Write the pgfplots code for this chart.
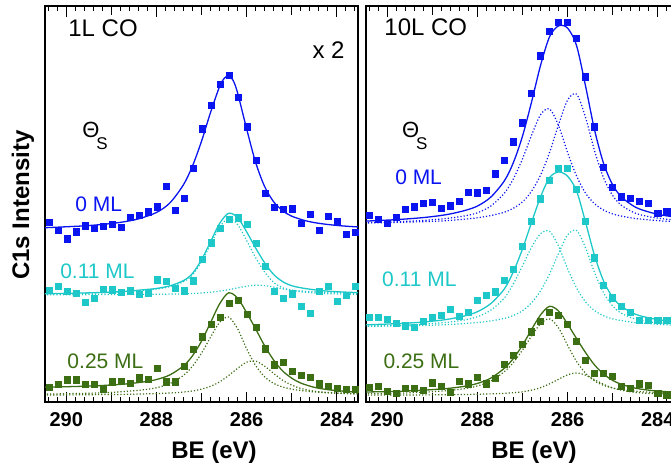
\documentclass[border=0pt]{standalone}
\usepackage{fontspec}
\setmainfont{Liberation Sans}
\usepackage{pgfplots}
\usepackage{pgfplotstable}
\pgfplotsset{compat=1.18}
\definecolor{cBlue}{RGB}{10,20,240}
\definecolor{cCyan}{RGB}{30,200,200}
\definecolor{cGreen}{RGB}{60,110,20}

\pgfplotstableread{
x b c g
290.38 176 109.3 14.7
290.18 168 113.7 17.3
289.98 160 108.7 21.7
289.78 166.7 106.3 21.7
289.58 172.7 97.7 17.3
289.38 170 101.7 17.3
289.18 172 110.7 12
288.98 174 110 19.7
288.78 171.3 107.3 20.3
288.58 180.7 109 18
288.38 183 105.3 23.7
288.18 186.3 107 22.3
287.98 191.3 119.7 32.7
287.78 211.7 118 19.7
287.58 188 111 19.7
287.38 200 109 35
287.18 229 118.7 51.5
286.98 267.7 139.7 63.8
286.78 290.7 156 75.8
286.58 311.7 170.2 82.8
286.38 320 178.8 96.8
286.18 298.3 180.5 100
285.98 269.7 174.5 85.8
285.78 236.7 155.7 72.8
285.58 204.7 132.7 52
285.38 191 108.8 36.3
285.18 188.7 101.8 38.7
284.98 189.3 106 30
284.78 175 94 25.7
284.58 183.7 87 24.3
284.38 168 108.7 17.7
284.18 182.3 113.7 15.3
283.98 176.7 98.3 13.3
283.78 164.7 104.7 12.7
283.58 166 113.7 12.7
}\leftdata

\pgfplotstableread{
x cT cA cM gT gA gM
290.5 106.1 106.0 105.1 14.6 7.7 6.9
289.8 106.7 106.5 105.2 15.2 8.3 7.0
289.2 107.4 107.1 105.3 16.2 9.0 7.3
288.7 108.4 108.1 105.3 17.6 10.3 7.5
288.3 110.0 109.5 105.5 19.6 11.9 7.9
288.0 111.3 110.7 105.6 22.0 14.0 8.3
287.7 113.9 113.1 105.8 26.6 18.1 8.8
287.4 119.0 117.9 106.1 35.4 26.1 9.8
287.2 126.0 124.6 106.4 45.3 35.1 10.8
287.0 139.5 137.6 106.9 59.6 47.8 12.6
286.8 157.0 154.4 107.6 77.8 63.5 15.4
286.6 174.9 171.2 108.7 96.1 78.0 19.7
286.4 185.0 179.9 110.1 107.0 83.3 25.9
286.2 180.9 174.0 111.9 101.9 71.8 33.0
286.0 166.9 158.4 113.5 87.6 52.2 39.0
285.8 151.0 141.5 114.5 71.7 35.8 40.1
285.6 136.5 127.4 114.1 55.1 24.7 35.1
285.4 125.0 117.3 112.7 41.1 18.3 28.0
285.2 118.0 112.0 111.0 30.4 14.7 21.3
285.0 114.0 109.6 109.4 23.4 12.6 16.6
284.8 112.0 108.9 108.1 18.6 11.3 13.3
284.5 110.0 108.1 106.9 14.4 9.9 10.6
284.2 108.7 107.5 106.2 12.1 9.0 9.3
283.9 107.9 107.0 105.9 10.8 8.6 8.5
283.5 107.2 106.6 105.6 9.5 8.0 7.9
}\leftfit

\pgfplotstableread{
x b c g
290.4 182.7 83.3 14.3
290.2 179.3 82.7 15.3
290.0 175.3 81.3 10.3
289.8 180.7 77 8.7
289.6 188.7 74.7 13.7
289.4 191.3 73.3 13.7
289.2 195 79.3 11.7
289.0 195.7 83 18.7
288.8 190 85 15.3
288.6 192.3 91 9.3
288.4 196.3 84 20
288.2 205.7 88 17.7
288.0 205 100 24
287.8 207.3 104.3 17.7
287.6 223.7 108 23
287.4 237 119 36.7
287.2 255 129.7 46
287.0 273.7 152.3 56.3
286.8 302.7 177 68.7
286.6 339.3 199.2 78.7
286.4 363 217.5 88
286.2 372 228.7 85.3
286.0 372.3 228.7 76
285.8 356.7 208.8 59.7
285.6 318.7 177 40.7
285.4 269.7 141.3 27.7
285.2 230 114.3 27.7
285.0 210.7 102 25.3
284.8 201 93.7 15.3
284.6 199.7 87.7 13
284.4 196.7 80.3 17.7
284.2 195 80.3 16.3
284.0 185 80.3 8.7
283.8 186.3 80.3 7
}\rightdata

\pgfplotstableread{
x bT bA bM cT cA cM gT gA gM
290.5 177.3 175.8 175.5 75.6 74.5 74.1 9.8 8.0 6.75
289.8 178.8 176.7 176.1 76.8 75.2 74.6 10.4 8.6 6.84
289.2 180.8 178.0 176.8 78.4 76.3 75.1 11.6 9.6 6.97
288.7 183.6 179.9 177.7 80.8 78.0 75.8 13.1 11.0 7.14
288.3 187.5 182.3 179.2 84.2 80.3 76.9 15.3 13.0 7.34
288.0 192.1 185.5 180.6 88.5 83.6 77.9 18.2 15.7 7.6
287.7 201.0 192.2 182.8 96.6 90.1 79.5 23.5 20.6 8.0
287.4 217.0 204.9 186.1 111.0 102.0 82.0 33.2 29.8 8.5
287.2 235.0 219.0 190.0 128.0 116.1 84.9 42.8 38.8 9.1
287.0 260.6 238.4 196.2 150.0 133.5 89.5 55.7 50.9 10.0
286.8 294.0 261.4 206.6 176.0 151.7 97.3 71.0 64.7 11.6
286.6 330.0 281.6 222.4 201.0 165.0 109.0 85.4 76.7 14.1
286.4 358.1 287.4 244.7 220.0 167.4 125.6 93.8 81.5 17.8
286.2 368.8 270.9 271.9 225.5 152.7 145.8 89.2 72.6 22.3
286.0 366.6 244.6 296.0 221.4 130.6 163.8 76.4 55.6 26.6
285.8 349.2 221.4 301.8 206.8 111.7 168.1 62.1 39.6 28.5
285.6 309.3 204.6 278.7 175.9 98.0 150.9 48.3 28.1 26.3
285.4 266.3 194.3 246.0 143.2 89.6 126.6 36.2 20.6 21.8
285.2 233.6 188.1 219.5 118.4 84.5 106.9 27.3 16.3 17.3
285.0 212.8 184.4 202.4 102.6 81.5 94.1 21.2 13.7 13.8
284.8 200.8 182.2 192.6 93.5 79.7 86.8 17.2 12.1 11.5
284.5 191.1 179.9 185.2 86.1 77.8 81.3 13.6 10.6 9.4
284.2 186.3 178.6 181.7 82.5 76.8 78.7 11.6 9.6 8.4
283.9 183.2 177.5 179.7 80.1 75.9 77.2 10.4 8.9 7.9
283.5 180.6 176.7 177.9 78.1 75.2 75.9 9.4 8.3 7.5
}\rightfit

\pgfplotsset{
  panel/.style={
    width=156.5pt, height=194pt, scale only axis,
    xmin=283.53, xmax=290.47, x dir=reverse,
    ymin=0, ymax=388,
    ytick=\empty,
    xtick={284,286,288,290},
    minor xtick={283.6,283.8,284.2,284.4,284.6,284.8,285.2,285.4,285.6,285.8,286.2,286.4,286.6,286.8,287.2,287.4,287.6,287.8,288.2,288.4,288.6,288.8,289.2,289.4,289.6,289.8,290.2,290.4},
    extra x ticks={285,287,289},
    extra x tick labels={},
    extra x tick style={major tick length=4.3pt},
    major tick length=5.2pt, minor tick length=2.6pt,
    tick align=inside,
    tick style={line width=0.5pt, black},
    axis line style={line width=0.9pt},
    xticklabel style={font=\bfseries\fontsize{10}{12}\selectfont, yshift=-1.5pt},
    /pgf/number format/assume math mode=true,
  },
  dat/.style={only marks, mark=square*, mark size=1.55pt, color=#1},
  fit/.style={color=#1, line width=0.65pt, smooth, no markers},
  comp/.style={color=#1, line width=0.6pt, densely dotted, smooth, no markers},
}
\tikzset{
  lab/.style={anchor=west, inner sep=0pt, font=\fontsize{10.5}{12}\selectfont, text=#1},
  theta/.style={anchor=base west, inner sep=0pt, font=\fontsize{11}{13}\selectfont},
}
\newcommand{\ThetaS}{Θ\hspace{-1.5pt}\raisebox{-6pt}{\fontsize{8.5}{10}\selectfont S}}

\begin{document}
\begin{tikzpicture}
% ---------------- left panel ----------------
\begin{axis}[panel, at={(22.5pt,30.5pt)}, anchor=south west]
\addplot[fit=cBlue] coordinates {
(290.6,170.8) (290.4,171.0) (290.0,171.8) (289.6,172.7) (289.2,174.1) (288.8,176.1)
(288.4,179.5) (288.0,185.8) (287.7,195.2) (287.4,213.0) (287.2,231.4) (287.0,255.6)
(286.8,283.8) (286.6,309.2) (286.5,317.1) (286.4,320.0) (286.3,315.4) (286.2,303.1)
(286.0,267.9) (285.8,235.0) (285.6,211.2) (285.4,196.3) (285.2,187.5) (285.0,182.2)
(284.7,177.8) (284.4,175.2) (284.0,173.1) (283.6,171.8) (283.4,171.5)};
\addplot[comp=cCyan] table[x=x,y=cA] {\leftfit};
\addplot[comp=cCyan] table[x=x,y=cM] {\leftfit};
\addplot[fit=cCyan] table[x=x,y=cT] {\leftfit};
\addplot[comp=cGreen] table[x=x,y=gA] {\leftfit};
\addplot[comp=cGreen] table[x=x,y=gM] {\leftfit};
\addplot[fit=cGreen] table[x=x,y=gT] {\leftfit};
\addplot[dat=cBlue] table[x=x,y=b] {\leftdata};
\addplot[dat=cCyan] table[x=x,y=c] {\leftdata};
\addplot[dat=cGreen] table[x=x,y=g] {\leftdata};
\node[anchor=west, inner sep=0pt, font=\fontsize{12}{14}\selectfont] at (axis cs:289.96,366) {1L CO};
\node[anchor=east, inner sep=0pt, font=\fontsize{12}{14}\selectfont] at (axis cs:283.82,345) {x 2};
\node[theta] at (axis cs:289.65,259) {\ThetaS};
\node[lab=cBlue] at (axis cs:289.805,194) {0 ML};
\node[lab=cCyan] at (axis cs:290.14,128) {0.11 ML};
\node[lab=cGreen] at (axis cs:289.98,40) {0.25 ML};
\end{axis}
% ---------------- right panel ----------------
\begin{axis}[panel, at={(183pt,30.5pt)}, anchor=south west]
\addplot[comp=cBlue] table[x=x,y=bA] {\rightfit};
\addplot[comp=cBlue] table[x=x,y=bM] {\rightfit};
\addplot[fit=cBlue] table[x=x,y=bT] {\rightfit};
\addplot[comp=cCyan] table[x=x,y=cA] {\rightfit};
\addplot[comp=cCyan] table[x=x,y=cM] {\rightfit};
\addplot[fit=cCyan] table[x=x,y=cT] {\rightfit};
\addplot[comp=cGreen] table[x=x,y=gA] {\rightfit};
\addplot[comp=cGreen] table[x=x,y=gM] {\rightfit};
\addplot[fit=cGreen] table[x=x,y=gT] {\rightfit};
\addplot[dat=cBlue] table[x=x,y=b] {\rightdata};
\addplot[dat=cCyan] table[x=x,y=c] {\rightdata};
\addplot[dat=cGreen] table[x=x,y=g] {\rightdata};
\node[anchor=west, inner sep=0pt, font=\fontsize{12}{14}\selectfont] at (axis cs:290.07,367) {10L CO};
\node[theta] at (axis cs:289.68,259) {\ThetaS};
\node[lab=cBlue] at (axis cs:289.83,220) {0 ML};
\node[lab=cCyan] at (axis cs:290.12,120) {0.11 ML};
\node[lab=cGreen] at (axis cs:290.09,40) {0.25 ML};
\end{axis}
% ---------------- outer labels ----------------
\node[rotate=90, font=\bfseries\fontsize{12}{14}\selectfont] at (11.5pt,129pt) {C1s Intensity};
\node[font=\bfseries\fontsize{12}{14}\selectfont] at (107pt,5.5pt) {BE (eV)};
\node[font=\bfseries\fontsize{12}{14}\selectfont] at (267pt,5.5pt) {BE (eV)};
\pgfresetboundingbox
\useasboundingbox (0,0) rectangle (335.5pt,231.5pt);
\end{tikzpicture}
\end{document}
